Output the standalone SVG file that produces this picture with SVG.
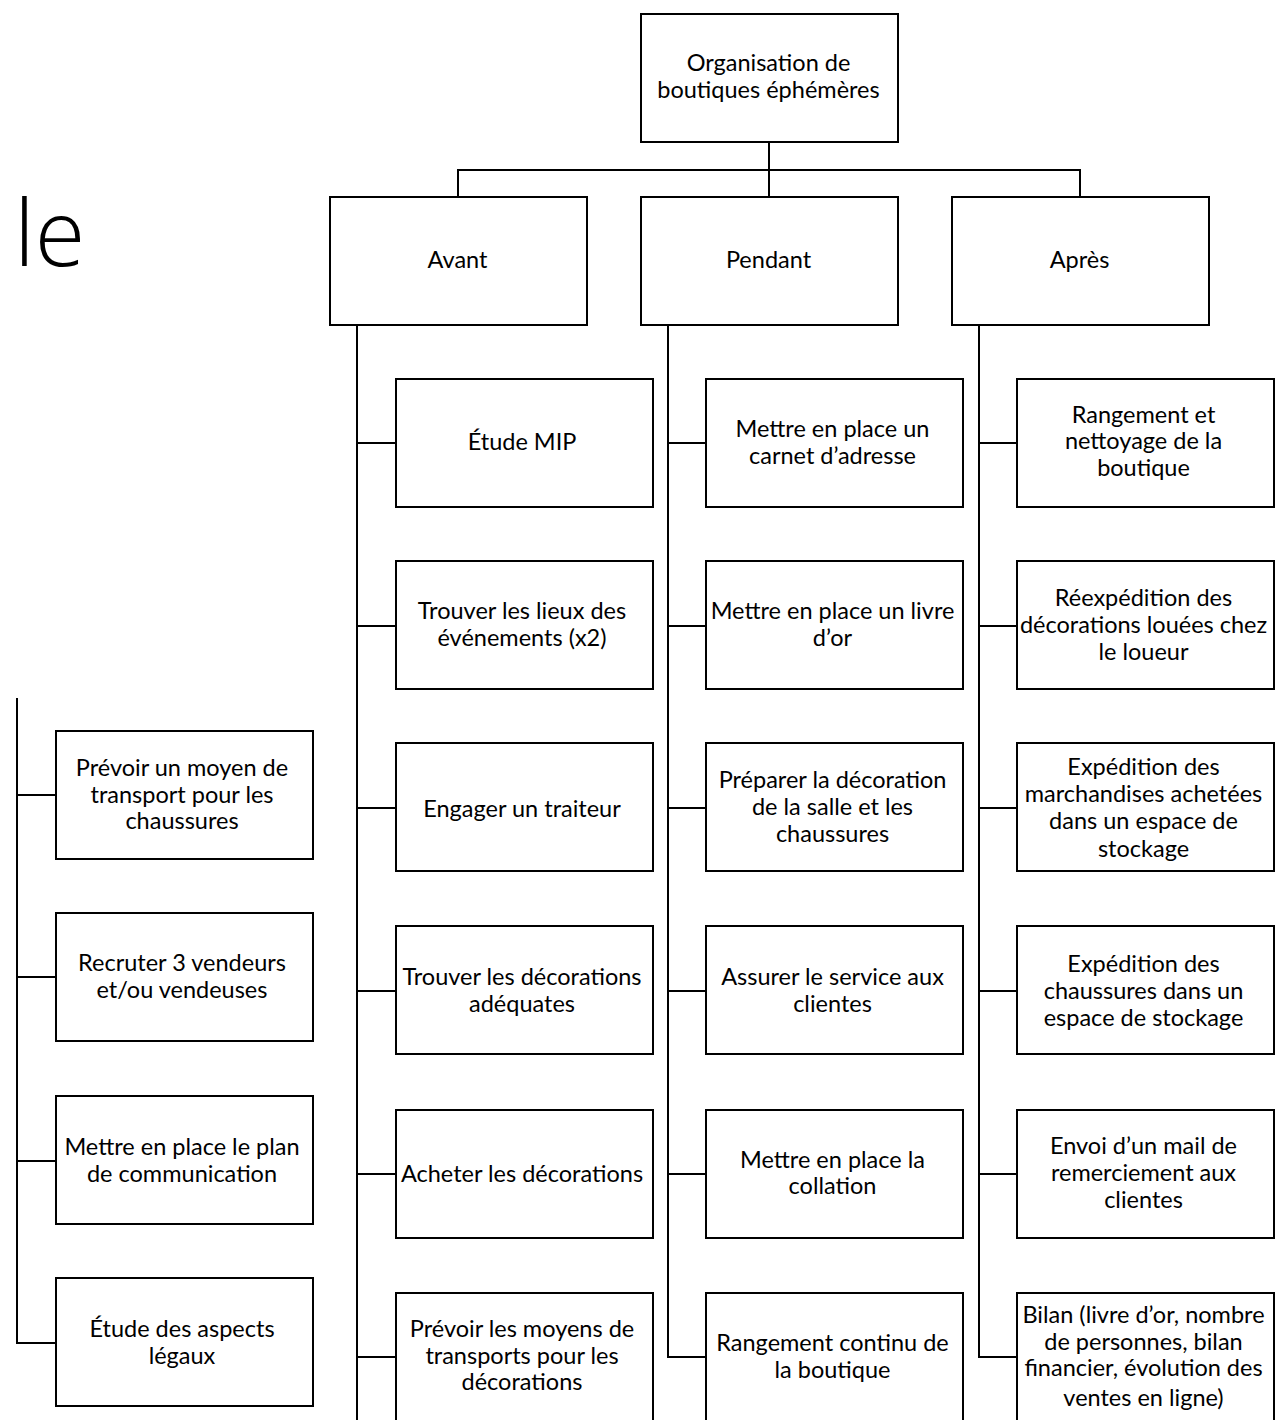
<svg xmlns="http://www.w3.org/2000/svg" width="1281" height="1420" viewBox="0 0 1281 1420">
<style>
.b{fill:#fff;stroke:#000;stroke-width:2}
.t{font-family:Lato,"Open Sans","Liberation Sans",sans-serif;font-size:23.5px;fill:#000;text-anchor:middle;dominant-baseline:central}
.c{fill:none;stroke:#000;stroke-width:2}
.big{font-family:"Open Sans","Noto Sans",sans-serif;font-size:92px;font-weight:300;fill:#000}
</style>
<rect width="1281" height="1420" fill="#fff"/>
<text class="big" x="14" y="266">le</text>
<g id="connectors">
<path class="c" d="M769,142V197M458,197V170H1080V197"/>
<path class="c" d="M357,325V1420M357,443H396M357,626H396M357,808H396M357,991H396M357,1174H396M357,1357H396"/>
<path class="c" d="M668,325V1357H706M668,443H706M668,626H706M668,808H706M668,991H706M668,1174H706"/>
<path class="c" d="M979,325V1357H1017M979,443H1017M979,626H1017M979,808H1017M979,991H1017M979,1174H1017"/>
<path class="c" d="M17,698V1343H56M17,795H56M17,977H56M17,1161H56"/>
</g>
<g id="root"><rect class="b" x="641" y="14" width="257" height="128"/><text class="t"><tspan x="768.5" y="62">Organisation de</tspan><tspan x="768.5" y="89">boutiques éphémères</tspan></text></g>
<g id="avant"><rect class="b" x="330" y="197" width="257" height="128"/><text class="t" x="457.5" y="259">Avant</text></g>
<g id="pendant"><rect class="b" x="641" y="197" width="257" height="128"/><text class="t" x="768.5" y="259">Pendant</text></g>
<g id="apres"><rect class="b" x="952" y="197" width="257" height="128"/><text class="t" x="1079.5" y="259">Après</text></g>

<g id="a1"><rect class="b" x="396" y="379" width="257" height="128"/><text class="t" x="522" y="441">Étude MIP</text></g>
<g id="a2"><rect class="b" x="396" y="561" width="257" height="128"/><text class="t"><tspan x="522" y="610">Trouver les lieux des</tspan><tspan x="522" y="637">événements (x2)</tspan></text></g>
<g id="a3"><rect class="b" x="396" y="743" width="257" height="128"/><text class="t" x="522" y="808">Engager un traiteur</text></g>
<g id="a4"><rect class="b" x="396" y="926" width="257" height="128"/><text class="t"><tspan x="522" y="976">Trouver les décorations</tspan><tspan x="522" y="1003">adéquates</tspan></text></g>
<g id="a5"><rect class="b" x="396" y="1110" width="257" height="128"/><text class="t" x="522" y="1173">Acheter les décorations</text></g>
<g id="a6"><rect class="b" x="396" y="1293" width="257" height="140"/><text class="t"><tspan x="522" y="1328">Prévoir les moyens de</tspan><tspan x="522" y="1355">transports pour les</tspan><tspan x="522" y="1381">décorations</tspan></text></g>

<g id="p1"><rect class="b" x="706" y="379" width="257" height="128"/><text class="t"><tspan x="832.5" y="428">Mettre en place un</tspan><tspan x="832.5" y="455">carnet d’adresse</tspan></text></g>
<g id="p2"><rect class="b" x="706" y="561" width="257" height="128"/><text class="t"><tspan x="832.5" y="610">Mettre en place un livre</tspan><tspan x="832.5" y="637">d’or</tspan></text></g>
<g id="p3"><rect class="b" x="706" y="743" width="257" height="128"/><text class="t"><tspan x="832.5" y="779">Préparer la décoration</tspan><tspan x="832.5" y="806">de la salle et les</tspan><tspan x="832.5" y="833">chaussures</tspan></text></g>
<g id="p4"><rect class="b" x="706" y="926" width="257" height="128"/><text class="t"><tspan x="832.5" y="976">Assurer le service aux</tspan><tspan x="832.5" y="1003">clientes</tspan></text></g>
<g id="p5"><rect class="b" x="706" y="1110" width="257" height="128"/><text class="t"><tspan x="832.5" y="1159">Mettre en place la</tspan><tspan x="832.5" y="1185">collation</tspan></text></g>
<g id="p6"><rect class="b" x="706" y="1293" width="257" height="140"/><text class="t"><tspan x="832.5" y="1342">Rangement continu de</tspan><tspan x="832.5" y="1369">la boutique</tspan></text></g>

<g id="r1"><rect class="b" x="1017" y="379" width="257" height="128"/><text class="t"><tspan x="1143.5" y="414">Rangement et</tspan><tspan x="1143.5" y="440">nettoyage de la</tspan><tspan x="1143.5" y="467">boutique</tspan></text></g>
<g id="r2"><rect class="b" x="1017" y="561" width="257" height="128"/><text class="t"><tspan x="1143.5" y="597">Réexpédition des</tspan><tspan x="1143.5" y="624">décorations louées chez</tspan><tspan x="1143.5" y="651">le loueur</tspan></text></g>
<g id="r3"><rect class="b" x="1017" y="743" width="257" height="128"/><text class="t"><tspan x="1143.5" y="766">Expédition des</tspan><tspan x="1143.5" y="793">marchandises achetées</tspan><tspan x="1143.5" y="820">dans un espace de</tspan><tspan x="1143.5" y="848">stockage</tspan></text></g>
<g id="r4"><rect class="b" x="1017" y="926" width="257" height="128"/><text class="t"><tspan x="1143.5" y="963">Expédition des</tspan><tspan x="1143.5" y="990">chaussures dans un</tspan><tspan x="1143.5" y="1017">espace de stockage</tspan></text></g>
<g id="r5"><rect class="b" x="1017" y="1110" width="257" height="128"/><text class="t"><tspan x="1143.5" y="1145">Envoi d’un mail de</tspan><tspan x="1143.5" y="1172">remerciement aux</tspan><tspan x="1143.5" y="1199">clientes</tspan></text></g>
<g id="r6"><rect class="b" x="1017" y="1293" width="257" height="140"/><text class="t"><tspan x="1143.5" y="1314">Bilan (livre d’or, nombre</tspan><tspan x="1143.5" y="1341">de personnes, bilan</tspan><tspan x="1143.5" y="1367">financier, évolution des</tspan><tspan x="1143.5" y="1397">ventes en ligne)</tspan></text></g>

<g id="l1"><rect class="b" x="56" y="731" width="257" height="128"/><text class="t"><tspan x="182" y="767">Prévoir un moyen de</tspan><tspan x="182" y="794">transport pour les</tspan><tspan x="182" y="820">chaussures</tspan></text></g>
<g id="l2"><rect class="b" x="56" y="913" width="257" height="128"/><text class="t"><tspan x="182" y="962">Recruter 3 vendeurs</tspan><tspan x="182" y="989">et/ou vendeuses</tspan></text></g>
<g id="l3"><rect class="b" x="56" y="1096" width="257" height="128"/><text class="t"><tspan x="182" y="1146">Mettre en place le plan</tspan><tspan x="182" y="1173">de communication</tspan></text></g>
<g id="l4"><rect class="b" x="56" y="1278" width="257" height="128"/><text class="t"><tspan x="182" y="1328">Étude des aspects</tspan><tspan x="182" y="1355">légaux</tspan></text></g>
</svg>
